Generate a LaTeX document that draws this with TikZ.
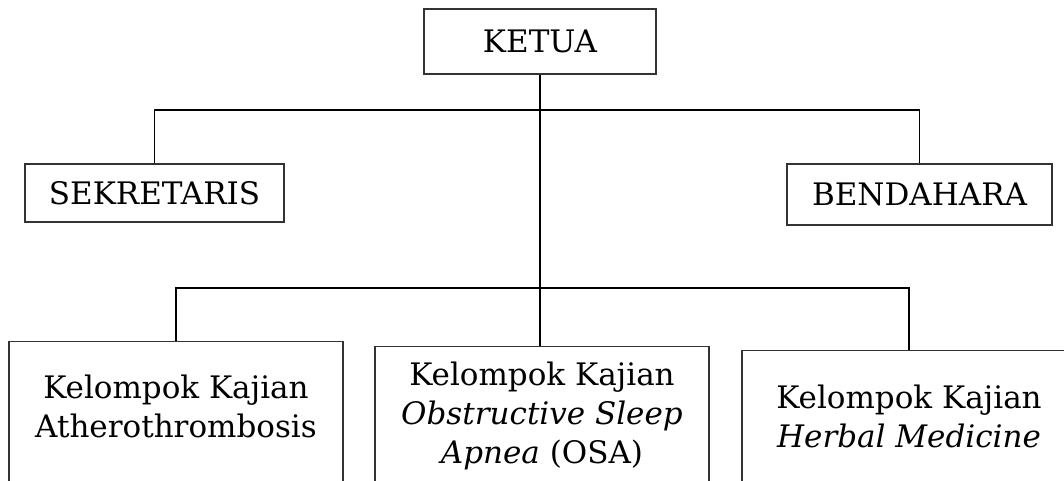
\documentclass[tikz,border=0pt]{standalone}
\usepackage{fontspec}
\setmainfont{DejaVu Serif}
\usetikzlibrary{positioning}

\tikzset{
  kotak/.style={draw=black!80, line width=1.1pt, inner sep=0pt, align=center},
  kajian/.style={kotak, anchor=north, minimum width=334pt, text depth=160pt},
  garis/.style={draw=black, line width=1.8pt}
}

\begin{document}
\begin{tikzpicture}[x=1pt, y=-1pt, font=\fontsize{31}{39}\selectfont]
        \useasboundingbox (0,0) rectangle (1064,480);
        \clip (0,0) rectangle (1064,480);
        \node[kotak, minimum width=232pt, minimum height=65pt] (ketua) at (540,41.5) {KETUA};
        \node[kotak, minimum width=259pt, minimum height=58pt] (sekretaris) at (154.5,193) {SEKRETARIS};
        \node[kotak, minimum width=265pt, minimum height=61pt] (bendahara) at (919.5,194.5) {BENDAHARA};
        \node[kajian, inner ysep=33.5pt] (athero) at (176,341) {Kelompok Kajian\\Atherothrombosis};
        \node[kajian, inner ysep=15.5pt] (osa) at (542,346) {Kelompok Kajian\\\textit{Obstructive Sleep}\\\textit{Apnea} (OSA)};
        \node[kajian, inner ysep=34.5pt] (herbal) at (909,350) {Kelompok Kajian\\\textit{Herbal Medicine}};
        \coordinate (atas) at (540,110);
        \coordinate (bawah) at (540,288);
        \draw[garis] (ketua.south) -- (ketua.south |- osa.north);
        \draw[garis] (sekretaris.north) -- (sekretaris.north |- atas) -- (bendahara.north |- atas) -- (bendahara.north);
        \draw[garis] (athero.north) -- (athero.north |- bawah) -- (herbal.north |- bawah) -- (herbal.north);
    \end{tikzpicture}
\end{document}
